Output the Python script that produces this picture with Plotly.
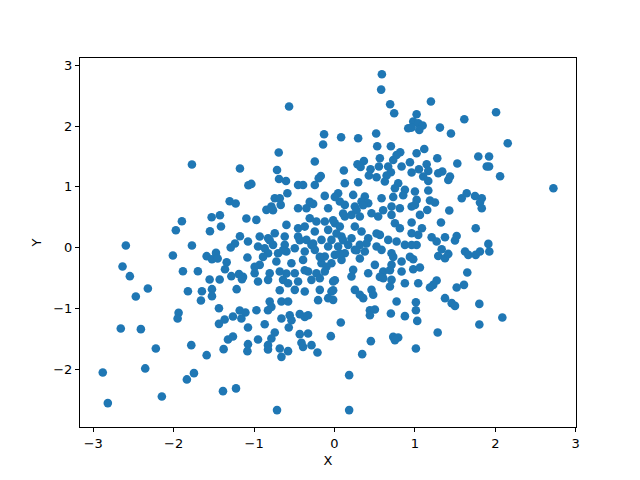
import plotly.graph_objects as go

X = [
-1.773,-1.176,-1.071,-1.304,-1.229,-1.898,-1.528,-1.425,-1.973,-1.549,-1.412,-1.096,-2.595,-1.773,-1.176,-1.238,-1.291,-2.010,-1.590,-1.474,
-1.524,-1.453,-1.341,-1.083,-2.636,-2.545,-1.885,-1.699,-1.362,-1.553,-1.428,-1.283,-1.188,-1.138,
-2.321,-2.471,-1.823,-1.649,-1.524,-1.524,-1.661,-1.217,-1.151,-1.437,-1.939,-1.951,-1.179,-1.108,-1.263,-1.158,
-1.366,-1.437,-1.076,-2.658,-2.408,-1.325,-1.263,-2.222,-1.781,-1.379,-1.590,-1.076,-1.083,-2.882,-2.354,-1.748,-1.836,-1.387,-1.225,-2.819,-2.147,
0.589,0.580,-0.565,0.692,0.742,0.917,-0.130,0.082,0.294,0.518,-0.142,0.531,0.701,0.817,-0.694,-0.245,-0.715,-0.690,-0.603,-0.171,
-0.196,0.116,0.286,0.365,0.324,0.448,0.564,0.552,0.427,0.523,0.667,0.730,0.772,0.701,0.648,0.834,0.938,0.959,0.792,0.626,
0.294,0.128,-0.453,-0.391,-0.245,-1.034,
1.199,2.009,1.614,1.021,0.979,1.041,1.096,0.959,1.054,1.311,1.448,2.154,1.116,1.021,1.278,1.788,1.922,1.893,1.922,1.527,
1.050,1.146,1.166,1.340,1.290,1.436,1.415,1.103,1.166,2.059,2.722,
0.751,0.875,
-0.743,-0.681,-0.586,-0.121,0.045,0.066,0.232,0.377,0.585,0.336,
-0.847,-0.785,-0.669,-0.453,-0.349,-0.266,-0.079,0.128,0.253,0.419,0.460,0.709,0.813,
-0.972,-0.308,-0.225,-0.598,-0.453,-0.370,-0.121,0.004,0.128,0.211,0.315,0.543,0.709,0.751,0.813,0.253,0.336,-0.245,-0.079,0.066,
-1.076,-0.930,-0.826,-0.743,-0.619,-0.453,-0.349,-0.162,-0.038,0.087,0.211,0.419,0.564,0.668,0.772,
-0.951,-0.868,-0.764,-0.619,-0.494,-0.287,-0.079,0.045,0.170,0.315,0.523,0.875,
-0.826,-0.702,-0.598,-0.370,-0.245,-0.121,0.004,0.128,0.253,0.377,0.585,0.709,0.834,
-0.930,-0.723,-0.536,-0.391,-0.162,-0.038,0.087,0.502,0.709,
-0.993,-0.806,-0.681,-0.494,-0.328,-0.225,-0.121,0.232,0.419,0.606,0.834,
-0.951,-0.826,-0.640,-0.577,-0.453,-0.287,-0.183,-0.017,0.211,0.606,0.709,0.875,
-0.494,-0.370,-0.183,-0.038,0.253,0.315,0.460,0.481,0.689,
-0.806,-0.660,-0.577,-0.079,-0.017,0.357,0.772,
1.000,1.166,1.021,0.959,1.000,1.187,1.249,1.582,1.644,1.747,1.831,1.809,1.831,1.427,1.062,1.153,0.959,1.324,1.087,1.041,
0.959,1.756,1.208,1.270,1.374,1.519,1.498,1.021,0.959,1.913,1.925,1.333,1.290,1.374,1.415,1.623,1.664,1.756,1.809,0.979,
0.979,1.062,1.651,1.041,1.270,1.228,1.187,1.519,1.610,1.012,1.374,1.457,1.801,
-0.971,-0.785,-0.827,-0.204,-0.660,-0.557,-0.432,-0.370,-0.329,-0.535,-0.868,-0.569,0.078,-0.743,-0.785,-0.951,-0.432,-0.329,-0.046,
-0.827,-0.827,-0.681,-0.660,-0.578,-0.411,-0.391,-0.286,-0.212,0.344,0.452,0.182,-0.715,0.182,0.440,0.502,0.440,0.701,0.875,
0.730,0.792,0.751,
1.012,1.029,1.498,2.087,1.801,1.283,1.012,
-0.765,-0.308,-0.889,-0.993,-0.640,-0.598,-0.370,-0.183,-0.100,-0.266,-0.432,-0.806,-0.681,
0.004,0.107,-0.017,0.356,0.274,0.730,0.854,0.605,0.025,0.107,0.066,0.274,0.398,0.523,0.730,0.938,
0.315,0.564,0.689,0.004,-0.017,
]

Y = [
1.367,1.301,1.026,0.763,0.725,0.434,0.500,0.533,0.286,0.270,0.347,0.479,0.035,0.035,0.188,0.067,0.002,-0.130,-0.141,-0.087,
-0.191,-0.179,-0.240,-0.163,-0.311,-0.470,-0.388,-0.388,-0.355,-0.525,-0.525,-0.470,-0.437,-0.482,
-0.673,-0.804,-0.717,-0.717,-0.684,-0.799,-0.870,-0.684,-0.520,-0.997,-1.074,-1.166,-1.035,-1.067,-1.133,-1.166,
-1.183,-1.255,-1.314,-1.331,-1.342,-1.512,-1.462,-1.660,-1.605,-1.671,-1.770,-1.589,-1.704,-2.054,-1.988,-2.066,-2.169,-2.362,-2.317,-2.559,-2.449,
2.852,2.600,2.321,2.359,2.211,1.964,1.865,1.816,1.799,1.877,1.696,1.668,1.668,1.569,1.564,1.416,1.278,1.130,1.097,1.179,
1.141,1.268,1.372,1.426,1.327,1.289,1.470,1.334,1.186,1.158,1.334,1.442,1.525,1.240,1.186,1.334,1.405,1.235,1.059,1.087,
1.076,1.059,1.031,1.031,1.031,1.048,
2.403,2.227,2.112,2.194,2.074,2.046,2.008,1.975,1.936,1.975,1.877,1.717,1.623,1.553,1.470,1.498,1.498,1.334,1.334,1.383,
1.289,1.372,1.262,1.252,1.224,1.169,1.113,1.169,1.097,1.174,0.977,
0.977,0.950,
0.812,0.812,0.895,0.851,0.895,0.758,0.867,0.840,0.812,0.758,
0.621,0.675,0.703,0.648,0.648,0.719,0.648,0.703,0.675,0.730,0.566,0.675,0.648,
0.456,0.484,0.429,0.374,0.319,0.346,0.429,0.401,0.511,0.538,0.511,0.511,0.538,0.401,0.319,0.346,0.264,0.264,0.292,0.346,
0.100,0.182,0.155,0.237,0.182,0.182,0.127,0.127,0.127,0.182,0.155,0.155,0.209,0.127,0.100,
0.018,-0.010,0.045,0.045,-0.010,0.045,0.018,0.018,0.045,0.045,0.018,0.045,
-0.092,-0.092,-0.065,-0.065,-0.037,-0.147,-0.120,-0.092,-0.037,-0.065,-0.037,-0.092,-0.229,
-0.284,-0.229,-0.257,-0.202,-0.257,-0.257,-0.202,-0.284,-0.284,
-0.421,-0.421,-0.394,-0.421,-0.394,-0.421,-0.394,-0.366,-0.421,-0.394,-0.394,
-0.558,-0.531,-0.531,-0.586,-0.558,-0.531,-0.503,-0.558,-0.476,-0.503,-0.531,-0.586,
-0.695,-0.723,-0.695,-0.723,-0.695,-0.777,-0.695,-0.777,-0.640,
-0.887,-0.887,-0.887,-0.832,-0.860,-0.832,-0.887,
0.923,0.939,0.785,0.676,0.702,0.775,0.742,0.813,0.895,0.850,0.813,0.742,0.648,0.610,0.538,0.620,0.413,0.413,0.319,0.209,
0.237,0.319,0.171,0.100,0.171,0.192,0.117,0.044,0.044,0.061,-0.064,-0.026,-0.137,-0.174,-0.104,-0.064,-0.120,-0.120,-0.064,-0.191,
-0.355,-0.327,-0.410,-0.586,-0.541,-0.613,-0.656,-0.656,-0.613,-0.898,-0.832,-0.914,-0.926,
-1.030,-0.975,-1.030,-0.865,-1.166,-1.112,-1.095,-1.140,-1.112,-1.194,-1.260,-1.314,-1.232,-1.396,-1.495,-1.512,-1.424,-1.413,-1.457,
-1.605,-1.676,-1.660,-1.798,-1.704,-1.567,-1.633,-1.605,-1.725,-1.753,-1.539,-2.099,-2.674,-2.674,-1.030,-1.018,-1.112,-1.084,-1.128,
-1.469,-1.479,-1.523,
-1.030,-1.206,-0.959,-1.150,-1.265,-1.396,-1.660,
0.615,0.752,-0.153,-0.317,-0.043,-0.426,-0.372,-0.153,-0.317,0.067,0.122,0.122,-0.701,
0.834,0.561,0.451,0.697,0.615,0.834,0.862,0.615,0.232,0.122,-0.097,-0.043,0.067,0.232,-0.153,-0.153,
-0.179,-0.482,-0.372,-0.536,-0.701,
]

X_TICKS = [-3, -2, -1, 0, 1, 2, 3]
Y_TICKS = [-2, -1, 0, 1, 2, 3]

def lab(v):
    return str(v).replace("-", "\u2212")

fig = go.Figure(go.Scatter(
    x=X, y=Y, mode="markers",
    marker=dict(color="#1f77b4", size=8.6, line=dict(width=0)),
))

axis_common = dict(
    showgrid=False, zeroline=False, showline=True, linecolor="black", linewidth=1,
    mirror=True, ticks="outside", ticklen=4, tickwidth=1, tickcolor="black",
    tickfont=dict(family="DejaVu Sans", size=13, color="black"),
)

# page body adds an 8px offset, so the figure is sized to fit the window
fig.update_layout(
    width=632, height=472,
    margin=dict(l=72, r=64, t=50, b=53),
    paper_bgcolor="white", plot_bgcolor="white",
    showlegend=False,
    font=dict(family="DejaVu Sans", size=13, color="black"),
    xaxis=dict(range=[-3.165, 3.003], tickvals=X_TICKS, ticktext=[lab(v) for v in X_TICKS],
               title=dict(text="X", standoff=6, font=dict(size=13)), **axis_common),
    yaxis=dict(range=[-2.952, 3.12], tickvals=Y_TICKS, ticktext=[lab(v) for v in Y_TICKS],
               title=dict(text="Y", standoff=8, font=dict(size=13)), **axis_common),
)

fig.write_html("out.html")
